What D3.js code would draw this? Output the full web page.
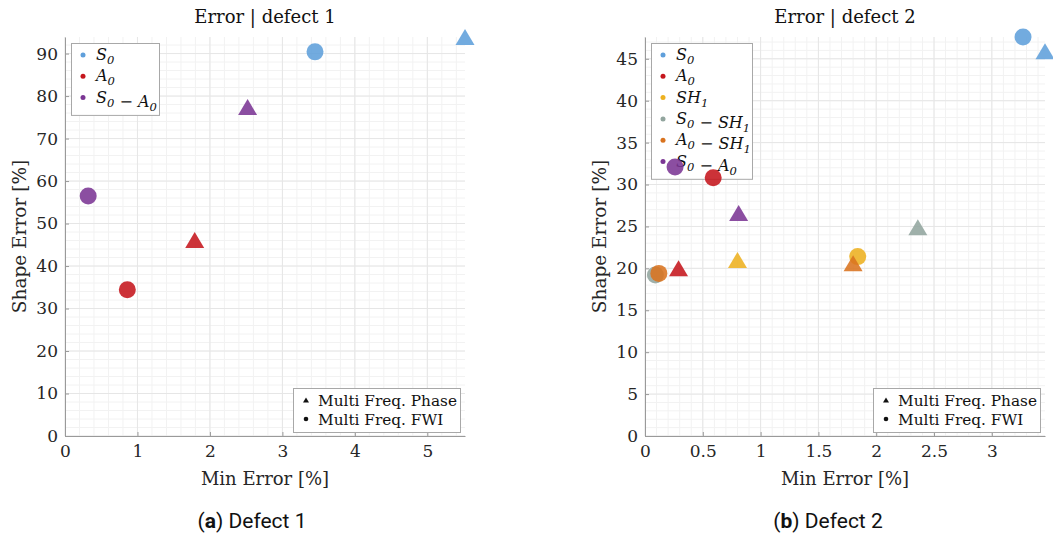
<!DOCTYPE html>
<html><head><meta charset="utf-8">
<script src="https://cdn.jsdelivr.net/npm/d3@7"></script>
<style>
body{margin:0;background:#fff;}
svg{display:block;}
</style></head>
<body>
<svg id="chart" width="1053" height="535"></svg>
<script>
// ---- data ----
const d1Labels = ["S_0", "A_0", "S_0 − A_0"];
const d1Colors = ["#5f9fdb", "#c5161d", "#7b3694"];
const d1PhaseX = [5.52, 1.79, 2.52];
const d1PhaseY = [93.9, 46.1, 77.4];
const d1FwiX = [3.45, 0.86, 0.32];
const d1FwiY = [90.4, 34.4, 56.5];
const d1XTicks = [0, 1, 2, 3, 4, 5];
const d1YTicks = [0, 10, 20, 30, 40, 50, 60, 70, 80, 90];

const d2Labels = ["S_0", "A_0", "SH_1", "S_0 − SH_1", "A_0 − SH_1", "S_0 − A_0"];
const d2Colors = ["#5f9fdb", "#c5161d", "#edb120", "#92a59e", "#d9731f", "#7b3694"];
const d2PhaseX = [3.46, 0.29, 0.80, 2.36, 1.80, 0.81];
const d2PhaseY = [45.9, 20.0, 21.0, 24.9, 20.6, 26.6];
const d2FwiX = [3.27, 0.59, 1.84, 0.09, 0.12, 0.26];
const d2FwiY = [47.6, 30.8, 21.4, 19.2, 19.4, 32.1];
const d2XTicks = [0, 0.5, 1, 1.5, 2, 2.5, 3];
const d2YTicks = [0, 5, 10, 15, 20, 25, 30, 35, 40, 45];

const methodLabels = ["Multi Freq. Phase", "Multi Freq. FWI"];

const svg = d3.select("#chart");
const SERIF = "'DejaVu Serif', 'Liberation Serif', serif";

function mathLabel(sel, label, fs) {
  const parts = label.split(/(_\d)/);
  parts.forEach(p => {
    if (!p) return;
    if (p.startsWith("_")) {
      sel.append("tspan").attr("font-size", (fs * 0.72) + "px").attr("dy", 4).text(p.slice(1));
      sel.append("tspan").attr("font-size", fs + "px").attr("dy", -4).text("");
    } else {
      sel.append("tspan").text(p.replace(" − ", "  −  "));
    }
  });
}

function triPath(s, h) {
  return `M0,${-h / 2}L${s / 2},${h / 2}L${-s / 2},${h / 2}Z`;
}

function drawPanel(cfg) {
  const g = svg.append("g");
  const x = d3.scaleLinear().domain(cfg.xDomain).range([cfg.left, cfg.right]);
  const y = d3.scaleLinear().domain(cfg.yDomain).range([cfg.bottom, cfg.top]);

  // minor grid
  const xMinor = d3.range(0, cfg.xDomain[1] + 1e-9, cfg.xMinor);
  const yMinor = d3.range(0, cfg.yDomain[1] + 1e-9, cfg.yMinor);
  g.append("g").selectAll("line").data(xMinor).join("line")
    .attr("x1", d => x(d)).attr("x2", d => x(d)).attr("y1", cfg.top).attr("y2", cfg.bottom)
    .attr("stroke", "#f2f2f2").attr("stroke-width", 1);
  g.append("g").selectAll("line").data(yMinor).join("line")
    .attr("y1", d => y(d)).attr("y2", d => y(d)).attr("x1", cfg.left).attr("x2", cfg.right)
    .attr("stroke", "#f2f2f2").attr("stroke-width", 1);
  // major grid
  g.append("g").selectAll("line").data(cfg.xTicks).join("line")
    .attr("x1", d => x(d)).attr("x2", d => x(d)).attr("y1", cfg.top).attr("y2", cfg.bottom)
    .attr("stroke", "#e6e6e6").attr("stroke-width", 1);
  g.append("g").selectAll("line").data(cfg.yTicks).join("line")
    .attr("y1", d => y(d)).attr("y2", d => y(d)).attr("x1", cfg.left).attr("x2", cfg.right)
    .attr("stroke", "#e6e6e6").attr("stroke-width", 1);

  // axes
  const xAxis = d3.axisBottom(x).tickValues(cfg.xTicks).tickSizeInner(-4).tickSizeOuter(0).tickPadding(9).tickFormat(d3.format("~g"));
  const yAxis = d3.axisLeft(y).tickValues(cfg.yTicks).tickSizeInner(-4).tickSizeOuter(0).tickPadding(7).tickFormat(d3.format("~g"));
  const gx = g.append("g").attr("transform", `translate(0,${cfg.bottom})`).call(xAxis);
  const gy = g.append("g").attr("transform", `translate(${cfg.left},0)`).call(yAxis);
  [gx, gy].forEach(a => {
    a.attr("font-family", SERIF).attr("font-size", 17);
    a.select(".domain").attr("stroke", "#9a9a9a");
    a.selectAll(".tick line").attr("stroke", "#9a9a9a");
    a.selectAll(".tick text").attr("fill", "#262626").attr("font-family", SERIF).attr("font-size", "17px");
  });

  // title and labels
  g.append("text").attr("x", (cfg.left + cfg.right) / 2).attr("y", 23)
    .attr("text-anchor", "middle").attr("font-family", SERIF).attr("font-size", "18px").attr("fill", "#111")
    .text(cfg.title);
  g.append("text").attr("x", (cfg.left + cfg.right) / 2).attr("y", 485)
    .attr("text-anchor", "middle").attr("font-family", SERIF).attr("font-size", "18px").attr("fill", "#262626")
    .text("Min Error [%]");
  g.append("text").attr("transform", `translate(${cfg.left - 39},${(cfg.top + cfg.bottom) / 2}) rotate(-90)`)
    .attr("text-anchor", "middle").attr("font-family", SERIF).attr("font-size", "18.5px").attr("fill", "#262626")
    .text("Shape Error [%]");

  // series legend
  const lg = g.append("g");
  const lh = cfg.labels.length * 21.3 + 8;
  lg.append("rect").attr("x", cfg.left + 6.5).attr("y", 43.5).attr("width", cfg.legendW).attr("height", lh)
    .attr("fill", "#fff").attr("stroke", "#a8a8a8");
  cfg.labels.forEach((lab, i) => {
    const cy = 55 + i * 21.3;
    lg.append("circle").attr("cx", cfg.left + 18).attr("cy", cy).attr("r", 2.5).attr("fill", cfg.colors[i]);
    const t = lg.append("text").attr("x", cfg.left + 31).attr("y", cy + 5)
      .attr("font-family", SERIF).attr("font-style", "italic").attr("font-size", "16px").attr("fill", "#111");
    mathLabel(t, lab, 16);
  });

  // method legend
  const mg = g.append("g");
  mg.append("rect").attr("x", cfg.right - 171.5).attr("y", 388.5).attr("width", 167).attr("height", 44)
    .attr("fill", "#fff").attr("stroke", "#a8a8a8");
  methodLabels.forEach((lab, i) => {
    const cy = 400 + i * 19;
    if (i === 0) {
      mg.append("path").attr("d", triPath(6, 5)).attr("transform", `translate(${cfg.right - 159},${cy})`).attr("fill", "#111");
    } else {
      mg.append("circle").attr("cx", cfg.right - 159).attr("cy", cy).attr("r", 2.3).attr("fill", "#111");
    }
    mg.append("text").attr("x", cfg.right - 147).attr("y", cy + 5.5)
      .attr("font-family", SERIF).attr("font-size", "15.3px").attr("fill", "#111").text(lab);
  });

  // markers
  const mk = g.append("g");
  cfg.labels.forEach((lab, i) => {
    mk.append("path").attr("d", triPath(19, 16))
      .attr("transform", `translate(${x(cfg.phaseX[i])},${y(cfg.phaseY[i])})`)
      .attr("fill", cfg.colors[i]).attr("fill-opacity", 0.88);
    mk.append("circle").attr("cx", x(cfg.fwiX[i])).attr("cy", y(cfg.fwiY[i])).attr("r", 8.5)
      .attr("fill", cfg.colors[i]).attr("fill-opacity", 0.88);
  });

  // caption
  const cap = g.append("text").attr("x", cfg.captionX).attr("y", 528).attr("text-anchor", "middle")
    .attr("font-family", "'Liberation Sans Narrow', 'Roboto', sans-serif").attr("font-size", "21px").attr("fill", "#111");
  cap.append("tspan").text("(");
  cap.append("tspan").attr("font-weight", "bold").text(cfg.capLetter);
  cap.append("tspan").text(") " + cfg.capText);
}

drawPanel({
  left: 65, right: 465, top: 37, bottom: 436,
  xDomain: [0, 5.52], yDomain: [0, 93.9], xMinor: 0.2, yMinor: 2,
  xTicks: d1XTicks, yTicks: d1YTicks, title: "Error | defect 1",
  labels: d1Labels, colors: d1Colors, legendW: 88,
  phaseX: d1PhaseX, phaseY: d1PhaseY, fwiX: d1FwiX, fwiY: d1FwiY,
  captionX: 252, capLetter: "a", capText: "Defect 1"
});
drawPanel({
  left: 645, right: 1045, top: 37, bottom: 436,
  xDomain: [0, 3.46], yDomain: [0, 47.6], xMinor: 0.1, yMinor: 1,
  xTicks: d2XTicks, yTicks: d2YTicks, title: "Error | defect 2",
  labels: d2Labels, colors: d2Colors, legendW: 101,
  phaseX: d2PhaseX, phaseY: d2PhaseY, fwiX: d2FwiX, fwiY: d2FwiY,
  captionX: 828, capLetter: "b", capText: "Defect 2"
});
</script>
</body></html>
